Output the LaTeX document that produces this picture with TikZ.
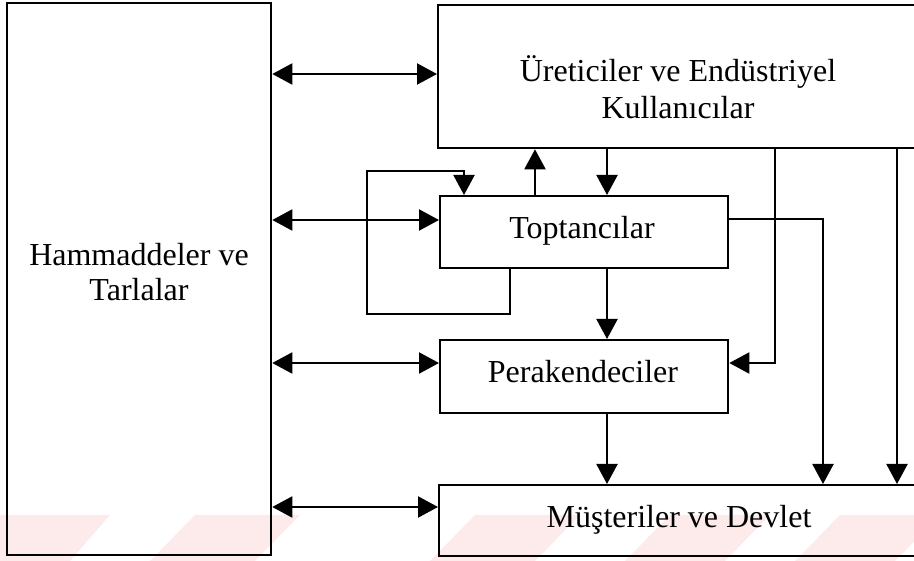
\documentclass[tikz,border=0pt]{standalone}
\usepackage{fontspec}
\setmainfont{Liberation Serif}
\usetikzlibrary{arrows.meta}

\definecolor{wmpink}{RGB}{253,235,236}

\tikzset{
  box/.style={draw, line width=2.3pt, minimum width=#1, anchor=north west, inner sep=0pt},
  lbl/.style={anchor=base, inner sep=0pt, font=\fontsize{32}{37}\selectfont},
  link/.style={line width=2.1pt, -{Triangle[length=20pt,width=21pt]}},
  duplex/.style={line width=2.1pt, {Triangle[length=20pt,width=21pt]}-{Triangle[length=20pt,width=21pt]}},
  wm/.style={fill=wmpink, draw=none}
}

\begin{document}
\begin{tikzpicture}[x=1pt, y=-1pt]
  \useasboundingbox (0,0) rectangle (914,561);
  \clip (0,0) rectangle (914,561);

  % faint slanted background band
  \fill[wm] (-40,561) -- (0,515) -- (110,515) -- (70,561) -- cycle;
  \fill[wm] (150,561) -- (195,515) -- (300,515) -- (255,561) -- cycle;
  \fill[wm] (430,561) -- (475,515) -- (580,515) -- (535,561) -- cycle;
  \fill[wm] (625,561) -- (670,515) -- (770,515) -- (725,561) -- cycle;
  \fill[wm] (795,561) -- (840,515) -- (940,515) -- (895,561) -- cycle;

  % boxes
  \node[box=264pt, minimum height=552pt] (ham) at (6,2) {};
  \node[box=481pt, minimum height=143pt] (ure) at (437,4) {};
  \node[box=288pt, minimum height=72pt]  (top) at (439,195) {};
  \node[box=288pt, minimum height=73pt]  (per) at (439,339) {};
  \node[box=481pt, minimum height=71pt]  (mus) at (438,484) {};

  % labels
  \node[lbl] (hamA) at (139,266) {Hammaddeler ve};
  \node[lbl] (hamB) at (139,301) {Tarlalar};
  \node[lbl] (ureA) at (678,82) {Üreticiler ve Endüstriyel};
  \node[lbl] (ureB) at (678,119) {Kullanıcılar};
  \node[lbl] (topA) at (582,239) {Toptancılar};
  \node[lbl] (perA) at (583,383) {Perakendeciler};
  \node[lbl] (musA) at (679,528) {Müşteriler ve Devlet};

  % row and column guides for the connectors
  \coordinate (r1) at (0,74);
  \coordinate (r2) at (0,220);
  \coordinate (r3) at (0,363);
  \coordinate (r4) at (0,507);
  \coordinate (rT) at (0,219);
  \coordinate (cUp) at (535,0);
  \coordinate (cMid) at (607,0);
  \coordinate (cA) at (775,0);
  \coordinate (cB) at (823,0);
  \coordinate (cC) at (897,0);
  \coordinate (lpA) at (510,314);
  \coordinate (lpB) at (367,171);
  \coordinate (lpC) at (464,0);

  % two-way links to the raw material box
  \draw[duplex] (ham.east |- r1) -- (ure.west |- r1);
  \draw[duplex] (ham.east |- r2) -- (top.west |- r2);
  \draw[duplex] (ham.east |- r3) -- (per.west |- r3);
  \draw[duplex] (ham.east |- r4) -- (mus.west |- r4);

  % wholesaler loop back onto itself
  \draw[link] (top.south -| lpA) -- (lpA) -- (lpA -| lpB) -- (lpB) -- (lpB -| lpC) -- (top.north -| lpC);

  % vertical flows in the middle column
  \draw[link] (top.north -| cUp) -- (ure.south -| cUp);
  \draw[link] (ure.south -| cMid) -- (top.north -| cMid);
  \draw[link] (top.south -| cMid) -- (per.north -| cMid);
  \draw[link] (per.south -| cMid) -- (mus.north -| cMid);

  % flows on the right-hand side
  \draw[link] (ure.south -| cA) -- (cA |- r3) -- (per.east |- r3);
  \draw[link] (top.east |- rT) -- (cB |- rT) -- (mus.north -| cB);
  \draw[link] (ure.south -| cC) -- (mus.north -| cC);
\end{tikzpicture}
\end{document}
